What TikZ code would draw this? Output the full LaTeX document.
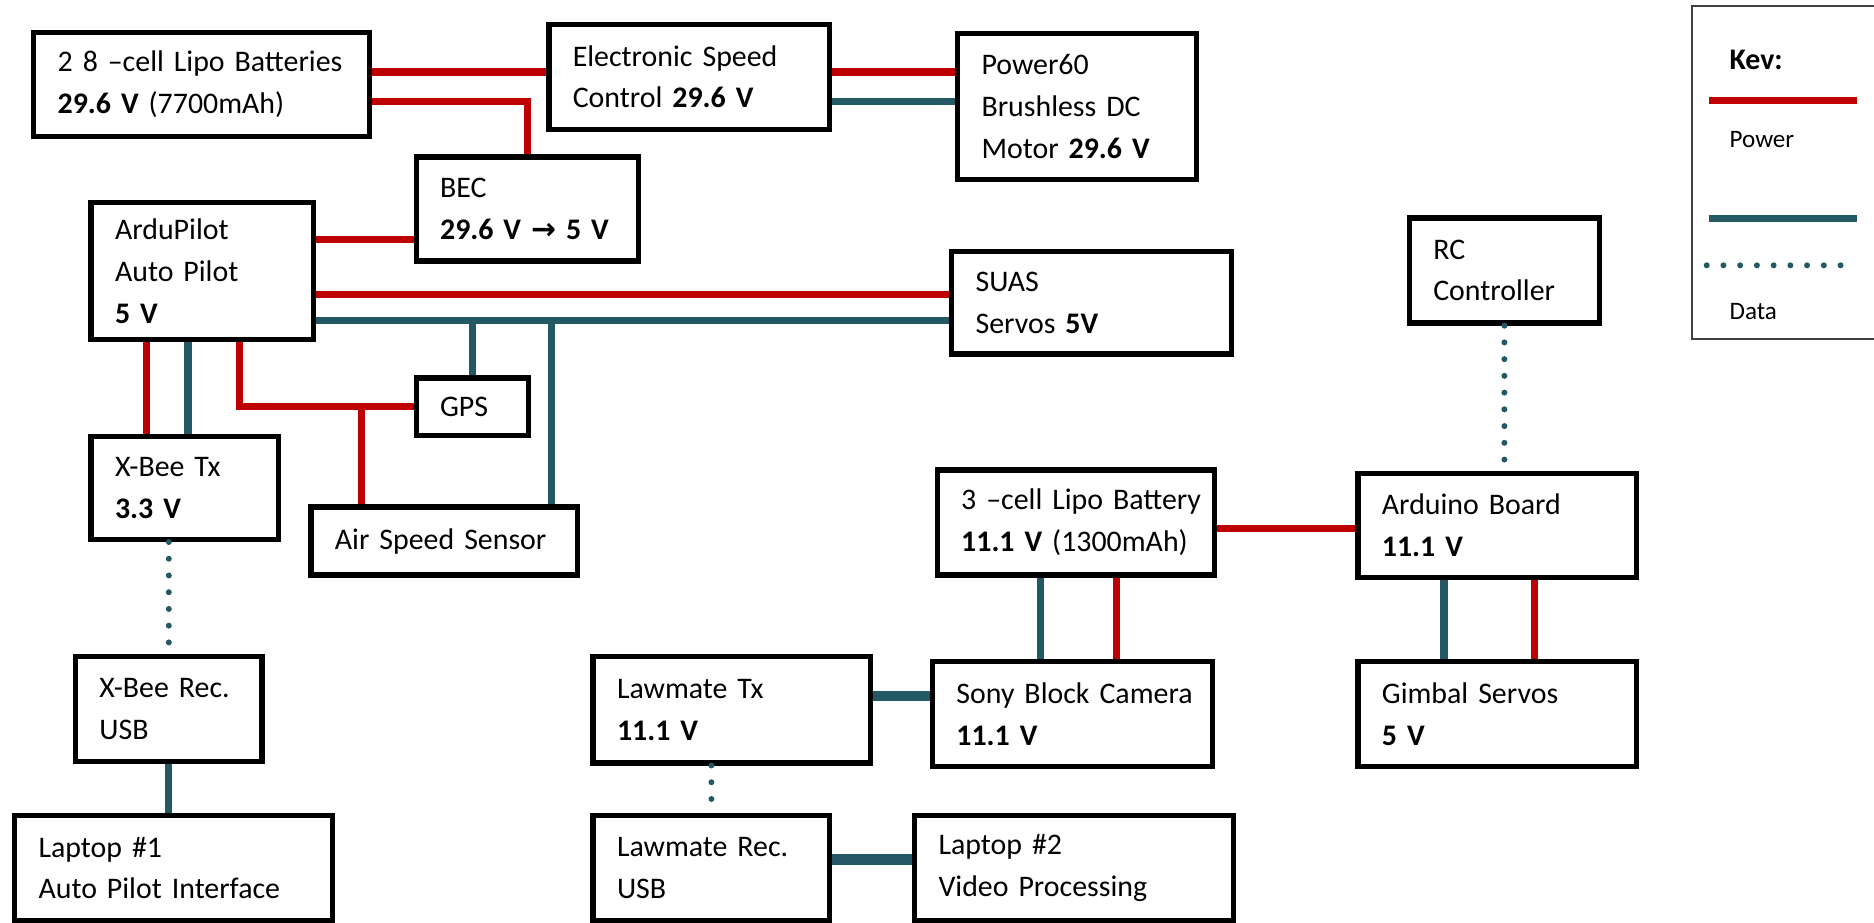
\documentclass[tikz,border=0pt]{standalone}
\usepackage{fontspec}
\setmainfont[WordSpace=0.5]{Carlito}
\newfontfamily\arrowfont{DejaVu Sans}
\newcommand\bxfont{\fontsize{25}{35}\selectfont}
\newcommand\smfont{\fontsize{21}{25}\selectfont}
\definecolor{pred}{RGB}{192,0,0}
\definecolor{dteal}{RGB}{36,88,101}
\begin{document}
\begin{tikzpicture}[x=1pt,y=-1pt,
  blk/.style n args={3}{draw=black, line width=4.5pt, fill=white, anchor=north west,
    minimum width=#1pt, minimum height=#2pt, text width=#3pt, inner xsep=20pt,
    inner ysep=0pt, align=left, font=\bxfont},
  keybox/.style={draw=black!75, line width=1.6pt, anchor=north west, minimum width=230pt, minimum height=279pt},
  keytxt/.style={anchor=west, inner sep=0pt},
  pw/.style={draw=pred, line width=6pt},
  dt/.style={draw=dteal, line width=6pt},
  dtk/.style={draw=dteal, line width=9pt},
  dd/.style={draw=dteal, line width=5pt, line cap=round, dash pattern=on 0pt off 14pt}]
\useasboundingbox (0,0) rectangle (1568,772);
\fill[white] (0,0) rectangle (1568,772);

% blocks
\node[blk={281}{87}{241}] (bat) at (26,25) {\mbox{2 8 –cell Lipo Batteries}\\\textbf{29.6 V} (7700mAh)};
\node[blk={235}{88}{195}] (esc) at (457,18) {Electronic Speed\\Control \textbf{29.6 V}};
\node[blk={200}{122}{160}] (mot) at (799,26) {Power60\\Brushless DC\\Motor \textbf{29.6 V}};
\node[blk={186}{87}{146}] (bec) at (346,129) {BEC\\\textbf{29.6 V {\arrowfont\bfseries →} 5 V}};
\node[blk={186}{115}{146}] (ap) at (74,167) {ArduPilot\\Auto Pilot\\\textbf{5 V}};
\node[blk={234}{86}{194}] (suas) at (794,208) {SUAS\\Servos \textbf{5V}};
\node[blk={94}{48}{54}] (gps) at (346,314) {GPS};
\node[blk={157}{86}{117}] (xbt) at (74,363) {X-Bee Tx\\\textbf{3.3 V}};
\node[blk={223}{57}{183}] (asp) at (258,422) {\mbox{Air Speed Sensor}};
\node[blk={159}{88}{119}] (rc) at (1177,180) {RC\\Controller};
\node[blk={232}{88}{192}] (bat3) at (782,391) {\mbox{3 –cell Lipo Battery}\\\mbox{\textbf{11.1 V} (1300mAh)}};
\node[blk={233}{87}{193}] (ard) at (1134,394) {Arduino Board\\\textbf{11.1 V}};
\node[blk={156}{88}{116}] (xbr) at (61,547) {X-Bee Rec.\\USB};
\node[blk={232}{89}{192}] (ltx) at (494,547) {Lawmate Tx\\\textbf{11.1 V}};
\node[blk={234}{88}{194}] (sony) at (778,551) {\mbox{Sony Block Camera}\\\textbf{11.1 V}};
\node[blk={233}{88}{193}] (gim) at (1134,551) {Gimbal Servos\\\textbf{5 V}};
\node[blk={266}{88}{226}] (lap1) at (10,680) {Laptop \#1\\\mbox{Auto Pilot Interface}};
\node[blk={198}{88}{158}] (lrx) at (494,680) {Lawmate Rec.\\USB};
\node[blk={267}{88}{227}] (lap2) at (763,680) {Laptop \#2\\Video Processing};

% key
\node[keybox] (key) at (1415,4) {};
\node[keytxt, font=\bxfont\bfseries] (kev) at (1447,50) {Kev:};
\node[keytxt, font=\smfont] (kpow) at (1447,117) {Power};
\node[keytxt, font=\smfont] (kdat) at (1447,261) {Data};
\coordinate (kr1) at (1430,84); \coordinate (kr2) at (1554,84);
\coordinate (kt1) at (1430,183); \coordinate (kt2) at (1554,183);
\coordinate (kd1) at (1428,222); \coordinate (kd2) at (1554,222);
\draw[pw] (kr1) -- (kr2);
\draw[dt] (kt1) -- (kt2);
\draw[dd] (kd1) -- (kd2);

% offset points
\coordinate (bat1) at ([yshift=10.5pt]bat.east);
\coordinate (bat2) at ([yshift=-14.5pt]bat.east);
\coordinate (esc1) at ([yshift=4pt]esc.east);
\coordinate (esc2) at ([yshift=-21pt]esc.east);
\coordinate (ap1) at ([yshift=26.5pt]ap.east);
\coordinate (ap2) at ([yshift=-19.5pt]ap.east);
\coordinate (tbus) at ([yshift=-41.5pt]ap.east);
\coordinate (aps1) at ([xshift=-47pt]ap.south);
\coordinate (aps2) at ([xshift=-12pt]ap.south);
\coordinate (aps3) at ([xshift=31pt]ap.south);
\coordinate (asp1) at ([xshift=89.5pt]asp.north);
\coordinate (asp2) at ([xshift=-69.5pt]asp.north);
\coordinate (ardin) at ([yshift=-2.5pt]ard.west);
\coordinate (b3t) at ([xshift=-30pt]bat3.south);
\coordinate (b3r) at ([xshift=34pt]bat3.south);
\coordinate (art) at ([xshift=-44.5pt]ard.south);
\coordinate (arr) at ([xshift=31.5pt]ard.south);
\coordinate (ltxo) at ([yshift=11.5pt]ltx.east);
\coordinate (lrxo) at ([yshift=7pt]lrx.east);

% power
\draw[pw] (bat1) -- (bat1 -| esc.west);
\draw[pw] (bat2) -| (bec.north);
\draw[pw] (esc1) -- (esc1 -| mot.west);
\draw[pw] (ap1) -- (ap1 -| bec.west);
\draw[pw] (ap2) -- (ap2 -| suas.west);
\draw[pw] (aps1) -- (aps1 |- xbt.north);
\draw[pw] (aps3) |- (gps.west);
\draw[pw] (asp2) -- (asp2 |- gps.west);
\draw[pw] (ardin -| bat3.east) -- (ardin);
\draw[pw] (b3r) -- (b3r |- sony.north);
\draw[pw] (arr) -- (arr |- gim.north);

% data (solid)
\draw[dt] (esc2) -- (esc2 -| mot.west);
\draw[dt] (tbus) -- (tbus -| suas.west);
\draw[dt] (gps.north) -- (gps.north |- tbus);
\draw[dt] (asp1) -- (asp1 |- tbus);
\draw[dt] (aps2) -- (aps2 |- xbt.north);
\draw[dt] (xbr.south) -- (xbr.south |- lap1.north);
\draw[dt] (b3t) -- (b3t |- sony.north);
\draw[dt] (art) -- (art |- gim.north);
\draw[dtk] (ltxo) -- (ltxo -| sony.west);
\draw[dtk] (lrxo) -- (lrxo -| lap2.west);

% data (dotted)
\draw[dd] (xbr.north |- xbt.south) -- (xbr.north);
\draw[dd] (rc.south) -- (rc.south |- ard.north);
\draw[dd] (lrx.north |- ltx.south) -- (lrx.north);
\end{tikzpicture}
\end{document}
